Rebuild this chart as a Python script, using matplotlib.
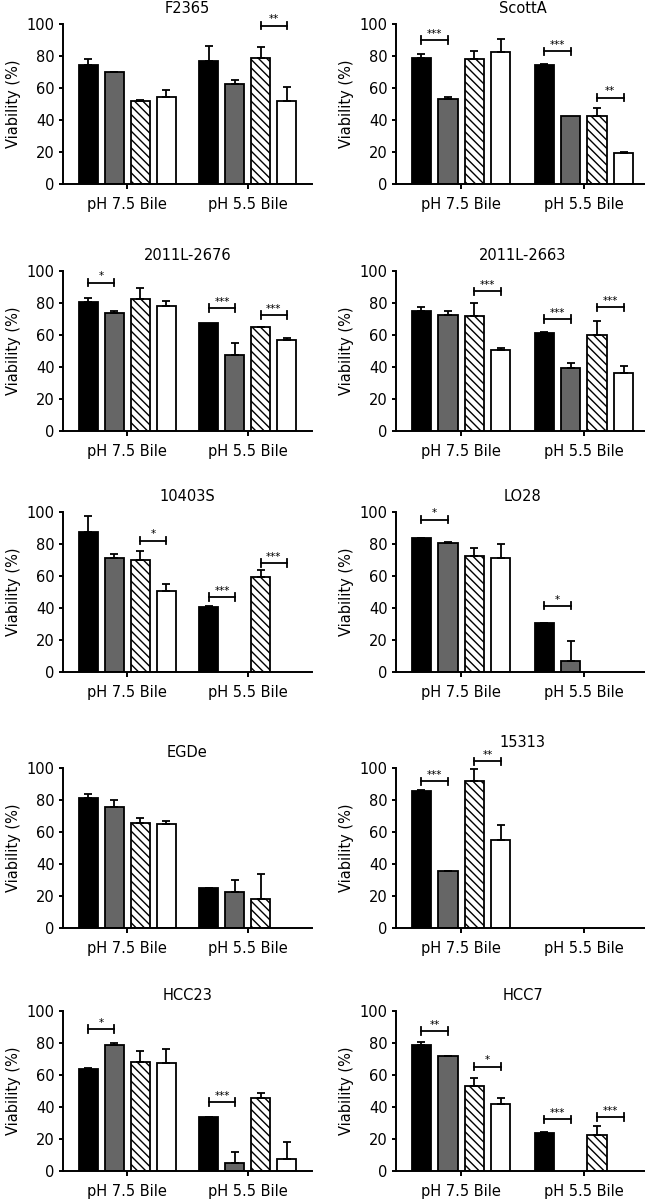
import matplotlib
matplotlib.use("Agg")
import matplotlib.pyplot as plt
import numpy as np

nan = np.nan

# strains, row-major (left, right) per row
strains = ["F2365", "ScottA", "2011L-2676", "2011L-2663", "10403S",
           "LO28", "EGDe", "15313", "HCC23", "HCC7"]
groups = ["pH 7.5 Bile", "pH 5.5 Bile"]

# bar order: black, grey, hatched, white
means_ph75 = [
    [74.6, 69.8, 51.7, 54.2],
    [79.0, 53.2, 78.4, 82.5],
    [80.7, 73.7, 82.8, 78.2],
    [75.2, 72.7, 71.7, 50.4],
    [87.5, 71.3, 69.9, 50.5],
    [83.6, 80.7, 72.5, 71.4],
    [81.4, 75.8, 65.4, 64.8],
    [85.9, 35.4, 91.7, 55.1],
    [64.0, 78.9, 68.4, 67.8],
    [78.7, 71.6, 53.4, 41.6],
]
errs_ph75 = [
    [3.4, 0.5, 0.5, 4.8],
    [2.4, 1.4, 4.5, 8.2],
    [2.7, 1.4, 6.8, 3.1],
    [2.1, 2.1, 8.3, 1.3],
    [10.2, 2.7, 6.0, 4.6],
    [0.3, 0.3, 5.1, 8.3],
    [2.5, 3.9, 3.6, 2.1],
    [0.4, 0.4, 7.7, 9.5],
    [0.3, 0.9, 6.8, 8.4],
    [2.0, 0.3, 4.8, 4.2],
]
means_ph55 = [
    [77.0, 62.5, 78.7, 51.7],
    [74.2, 42.3, 42.3, 19.2],
    [67.8, 47.5, 64.7, 57.0],
    [61.4, 39.3, 60.3, 36.2],
    [40.7, nan, 59.3, nan],
    [30.6, 7.0, nan, nan],
    [24.8, 22.4, 18.2, nan],
    [nan, nan, nan, nan],
    [33.5, 5.0, 45.7, 7.2],
    [23.8, nan, 22.8, nan],
]
errs_ph55 = [
    [9.0, 2.5, 6.7, 8.9],
    [1.1, 0.0, 5.5, 1.0],
    [0.0, 7.3, 0.4, 0.9],
    [0.4, 3.5, 8.7, 4.3],
    [0.5, 0.0, 4.3, 0.0],
    [0.3, 12.5, 0.0, 0.0],
    [0.4, 7.8, 15.5, 0.0],
    [0.0, 0.0, 0.0, 0.0],
    [0.3, 6.8, 3.1, 11.1],
    [0.3, 0.0, 5.2, 0.0],
]
# significance brackets: (group, bar a, bar b, height, label)
brackets = [
    [(1, 2, 3, 99.0, "**")],
    [(0, 0, 1, 90.0, "***"), (1, 0, 1, 83.0, "***"), (1, 2, 3, 54.0, "**")],
    [(0, 0, 1, 92.7, "*"), (1, 0, 1, 76.8, "***"), (1, 2, 3, 72.6, "***")],
    [(0, 2, 3, 87.2, "***"), (1, 0, 1, 70.0, "***"), (1, 2, 3, 77.3, "***")],
    [(0, 2, 3, 82.1, "*"), (1, 0, 1, 46.8, "***"), (1, 2, 3, 68.2, "***")],
    [(0, 0, 1, 95.2, "*"), (1, 0, 1, 41.4, "*")],
    [],
    [(0, 0, 1, 91.7, "***"), (0, 2, 3, 104.1, "**")],
    [(0, 0, 1, 88.8, "*"), (1, 0, 1, 43.2, "***")],
    [(0, 0, 1, 87.6, "**"), (0, 2, 3, 65.2, "*"), (1, 0, 1, 32.3, "***"), (1, 2, 3, 33.7, "***")],
]

fills = ["black", "#666666", "white", "white"]
hatches = [None, None, "\\\\\\\\", None]
offsets = np.array([-1.5, -0.5, 0.5, 1.5]) * 0.215
bar_w = 0.157
lw = 1.3

plt.rcParams["font.family"] = "DejaVu Sans"
plt.rcParams["hatch.linewidth"] = 1.0

W, H = 645, 1199
fig = plt.figure(figsize=(W / 100, H / 100), dpi=100)

row_top = [24, 271, 512, 768, 1011]
col_left = [63, 396]
col_width = [249, 253]
ax_h = 160
title_pads = [8, 8, 8, 8, 8, 8, 8, 15, 8, 8]

for i, name in enumerate(strains):
    r, c = divmod(i, 2)
    ax = fig.add_axes([col_left[c] / W, 1 - (row_top[r] + ax_h) / H,
                       col_width[c] / W, ax_h / H])
    data = [(means_ph75[i], errs_ph75[i]), (means_ph55[i], errs_ph55[i])]
    for g, (means, errs) in enumerate(data):
        for b in range(4):
            if np.isnan(means[b]):
                continue
            x = g + offsets[b]
            ax.bar(x, means[b], bar_w, color=fills[b], edgecolor="black",
                   linewidth=lw, hatch=hatches[b], zorder=2)
            if errs[b] > 0:
                ax.errorbar(x, means[b], yerr=[[0], [errs[b]]], fmt="none",
                            ecolor="black", elinewidth=lw, capsize=3,
                            capthick=lw, zorder=3, clip_on=False)

    for g, a, b, y, label in brackets[i]:
        x1, x2 = g + offsets[a], g + offsets[b]
        ax.plot([x1, x2], [y, y], color="black", lw=lw, clip_on=False, zorder=4)
        for xx in (x1, x2):
            ax.plot([xx, xx], [y - 2.3, y + 2.3], color="black", lw=lw,
                    clip_on=False, zorder=4)
        ax.text((x1 + x2) / 2, y + 2, label, ha="center", va="baseline",
                fontsize=7.5)

    ax.set_xlim(-0.53, 1.53)
    ax.set_ylim(0, 100)
    ax.set_yticks(range(0, 101, 20))
    ax.set_xticks([0, 1])
    ax.set_xticklabels(groups)
    ax.spines["top"].set_visible(False)
    ax.spines["right"].set_visible(False)
    ax.spines["left"].set_linewidth(1.4)
    ax.spines["bottom"].set_linewidth(1.4)
    ax.tick_params(axis="y", length=3, width=1.4, labelsize=10.5, pad=3)
    ax.tick_params(axis="x", length=3.5, width=1.4, labelsize=10.5, pad=6)
    ax.set_ylabel("Viability (%)", fontsize=10.5, labelpad=4)
    ax.set_title(name, fontsize=10.5, pad=title_pads[i])

fig.savefig("out.png", dpi=100)
